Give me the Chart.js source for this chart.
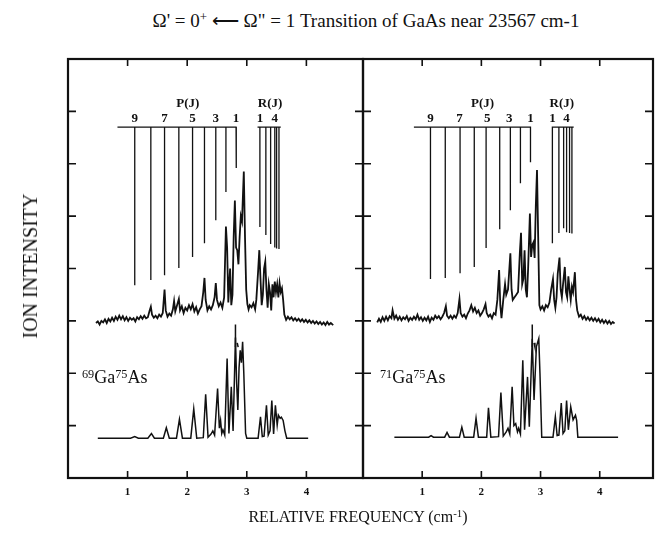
<!DOCTYPE html>
<html>
<head>
<meta charset="utf-8">
<script src="https://cdn.jsdelivr.net/npm/chart.js@4/dist/chart.umd.min.js"></script>
<style>
  body { margin: 0; background: #fff; width: 655px; height: 537px; position: relative; overflow: hidden;
         font-family: "Liberation Serif", "Times New Roman", serif; color: #111; }
  canvas { position: absolute; top: 0; }
  .t { position: absolute; white-space: nowrap; line-height: 1; }
  .t sup { font-size: 0.68em; vertical-align: 0.45em; line-height: 0; }
  #title { left: 366px; top: 11px; font-size: 19px; transform: translateX(-50%); }
  #xlab { left: 358px; top: 509px; font-size: 16px; transform: translateX(-50%); }
  #ylab { left: 30px; top: 266px; font-size: 20px; transform: translate(-50%, -50%) rotate(-90deg); }
  .iso { font-size: 18px; top: 368px; }
</style>
</head>
<body>
<div class="t" id="title">Ω' = 0<sup>+</sup> ⟵ Ω" = 1 Transition of GaAs near 23567 cm-1</div>
<canvas id="c69" width="366" height="537" style="left:0"></canvas>
<canvas id="c71" width="295" height="537" style="left:360px"></canvas>
<div class="t iso" style="left:82px"><sup>69</sup>Ga<sup>75</sup>As</div>
<div class="t iso" style="left:380px"><sup>71</sup>Ga<sup>75</sup>As</div>
<div class="t" id="ylab">ION INTENSITY</div>
<div class="t" id="xlab">RELATIVE FREQUENCY (cm<sup>-1</sup>)</div>
<script>
// GaAs rotational spectra, two isotopes.
// x = relative frequency (cm-1), y = ion intensity in tick units (0..8).

const INK = "#111";
const X_TICKS = [1, 2, 3, 4];
const Y_TICKS = [1, 2, 3, 4, 5, 6, 7];
const BAR_Y = 6.7;

// ---- 69Ga75As ----
const exp69 = [
  [0.47,2.96],[0.50,2.99],[0.53,2.93],[0.56,3.00],[0.59,2.97],[0.62,3.03],[0.65,2.96],[0.68,3.04],
  [0.71,2.99],[0.74,3.06],[0.77,3.00],[0.80,3.08],[0.83,3.02],[0.86,3.10],[0.89,3.03],[0.92,3.09],
  [0.95,3.01],[0.98,3.07],[1.01,3.00],[1.04,3.06],[1.07,3.02],[1.10,3.05],[1.13,2.99],[1.16,3.07],
  [1.19,3.03],[1.22,3.09],[1.25,3.04],[1.28,3.10],[1.31,3.05],[1.34,3.07],[1.37,3.20],[1.39,3.27],
  [1.41,3.12],[1.44,3.06],[1.47,3.10],[1.50,3.05],[1.53,3.12],[1.56,3.08],[1.59,3.15],[1.62,3.60],
  [1.64,3.20],[1.67,3.08],[1.70,3.14],[1.73,3.10],[1.76,3.22],[1.78,3.38],[1.80,3.18],[1.83,3.30],
  [1.86,3.42],[1.88,3.20],[1.91,3.28],[1.94,3.15],[1.97,3.25],[2.00,3.20],[2.03,3.30],[2.06,3.22],
  [2.09,3.32],[2.12,3.18],[2.15,3.26],[2.18,3.14],[2.21,3.22],[2.24,3.28],[2.27,3.55],[2.29,3.82],
  [2.31,3.40],[2.34,3.20],[2.37,3.28],[2.40,3.22],[2.43,3.30],[2.46,3.45],[2.48,3.72],[2.50,3.40],
  [2.53,3.28],[2.56,3.35],[2.59,3.25],[2.62,3.45],[2.65,4.80],[2.67,4.40],[2.69,3.35],[2.71,3.80],
  [2.72,4.00],[2.74,3.30],[2.76,3.50],[2.78,4.60],[2.80,5.30],[2.82,4.40],[2.84,4.35],[2.86,4.08],
  [2.88,4.60],[2.90,5.00],[2.92,4.90],[2.95,5.85],[2.97,4.60],[2.99,3.60],[3.01,3.32],[3.03,3.22],
  [3.05,3.30],[3.08,3.26],[3.11,3.34],[3.14,3.22],[3.16,3.40],[3.19,3.95],[3.21,4.35],[3.23,3.80],
  [3.25,3.30],[3.27,3.50],[3.29,4.00],[3.31,4.13],[3.33,3.60],[3.35,3.25],[3.37,3.70],[3.39,3.55],
  [3.41,3.20],[3.43,3.70],[3.45,3.45],[3.47,3.75],[3.49,3.55],[3.51,3.70],[3.53,3.45],[3.55,3.72],
  [3.57,3.55],[3.59,3.62],[3.61,3.40],[3.63,3.12],[3.66,3.02],[3.69,3.08],[3.72,3.03],[3.75,3.07],
  [3.78,3.01],[3.81,3.05],[3.84,3.00],[3.87,3.04],[3.90,2.99],[3.93,3.03],[3.96,2.98],[3.99,3.02],
  [4.02,2.97],[4.05,3.01],[4.08,2.96],[4.11,3.00],[4.14,2.95],[4.17,2.99],[4.20,2.94],[4.23,2.98],
  [4.26,2.93],[4.29,2.97],[4.32,2.92],[4.35,2.98],[4.38,2.93],[4.41,2.96],[4.45,2.92],
];
const sim69 = [
  [0.50,0.76],[1.05,0.76],[1.12,0.79],[1.18,0.76],[1.34,0.76],[1.40,0.85],[1.45,0.76],[1.60,0.76],
  [1.65,0.96],[1.70,0.76],[1.82,0.76],[1.87,1.12],[1.92,0.76],[2.06,0.76],[2.11,1.32],[2.16,0.76],
  [2.27,0.77],[2.31,1.60],[2.35,0.78],[2.40,0.84],[2.43,0.90],[2.46,0.82],[2.51,1.71],[2.54,0.95],
  [2.56,1.10],[2.58,0.85],[2.60,0.92],[2.63,0.82],[2.67,2.28],[2.70,0.85],[2.74,1.74],[2.77,0.90],
  [2.81,2.68],[2.83,1.80],[2.85,1.30],[2.87,2.10],[2.89,2.44],[2.91,2.20],[2.93,2.60],[2.95,2.00],
  [2.98,0.85],[3.00,0.76],[3.19,0.76],[3.23,1.17],[3.26,0.79],[3.29,0.80],[3.33,1.39],[3.36,0.82],
  [3.39,0.90],[3.42,1.48],[3.45,0.84],[3.48,1.39],[3.51,1.01],[3.53,1.20],[3.56,1.14],[3.58,1.16],
  [3.61,1.10],[3.64,0.90],[3.67,0.76],[4.03,0.76],
];
// [line x, lower end]
const pLines69 = [[1.12,3.68],[1.39,3.78],[1.62,3.87],[1.86,4.01],[2.09,4.22],[2.29,4.48],[2.48,4.92],[2.65,5.46],[2.82,5.92]];
const rLines69 = [[3.22,4.79],[3.32,4.64],[3.40,4.47],[3.47,4.40],[3.50,4.38],[3.54,4.37]];
const pBar69 = [0.83, 2.83];
const rBar69 = [3.18, 3.57];
const origin69 = [[2.81,2.93],[2.81,2.50],null,[2.84,2.58],[2.855,2.50]];
const notes69 = [
  ["P(J)",2.01,7.08],["R(J)",3.39,7.08],
  ["9",1.12,6.79],["7",1.62,6.79],["5",2.09,6.79],["3",2.48,6.79],["1",2.82,6.79],["1",3.22,6.79],["4",3.47,6.79],
];

// ---- 71Ga75As ----
const exp71 = [
  [0.24,2.97],[0.27,3.04],[0.30,2.98],[0.33,3.07],[0.36,3.00],[0.39,3.08],[0.42,3.01],[0.45,3.09],
  [0.48,3.05],[0.50,3.20],[0.53,3.04],[0.56,3.10],[0.59,3.02],[0.62,3.08],[0.65,3.01],[0.68,3.07],
  [0.71,3.03],[0.74,3.09],[0.77,3.00],[0.80,3.06],[0.83,3.02],[0.86,3.08],[0.89,3.03],[0.92,3.12],
  [0.95,3.02],[0.98,3.07],[1.01,3.00],[1.04,3.06],[1.07,3.01],[1.10,3.08],[1.13,2.98],[1.16,3.06],
  [1.19,3.02],[1.22,3.10],[1.25,3.05],[1.28,3.09],[1.31,3.03],[1.34,3.08],[1.37,3.15],[1.40,3.28],
  [1.42,3.10],[1.45,3.05],[1.48,3.10],[1.51,3.04],[1.54,3.10],[1.57,3.06],[1.60,3.15],[1.63,3.42],
  [1.65,3.15],[1.68,3.08],[1.71,3.12],[1.74,3.05],[1.77,3.14],[1.80,3.20],[1.83,3.30],[1.86,3.18],
  [1.89,3.25],[1.92,3.15],[1.95,3.20],[1.98,3.10],[2.01,3.15],[2.04,3.22],[2.07,3.32],[2.09,3.15],
  [2.12,3.08],[2.15,3.12],[2.18,3.05],[2.21,3.15],[2.24,3.12],[2.27,3.40],[2.30,3.97],[2.32,3.30],
  [2.34,3.05],[2.37,3.40],[2.40,3.70],[2.42,3.50],[2.45,3.60],[2.49,4.29],[2.51,3.60],[2.53,3.40],
  [2.56,3.45],[2.59,3.50],[2.62,3.55],[2.65,4.30],[2.67,4.68],[2.69,3.70],[2.71,3.80],[2.73,4.35],
  [2.75,3.60],[2.77,3.45],[2.79,4.00],[2.82,5.05],[2.84,4.22],[2.86,4.45],[2.88,4.50],[2.90,4.20],
  [2.92,5.20],[2.94,5.88],[2.96,4.60],[2.98,3.30],[3.00,3.22],[3.03,3.28],[3.06,3.20],[3.09,3.30],
  [3.12,3.26],[3.15,3.35],[3.18,3.60],[3.21,3.80],[3.23,3.40],[3.25,3.25],[3.27,3.45],[3.29,3.90],
  [3.32,4.21],[3.34,3.60],[3.36,3.45],[3.38,3.70],[3.41,4.03],[3.43,3.55],[3.45,3.45],[3.47,3.85],
  [3.49,3.60],[3.51,3.40],[3.53,3.65],[3.55,3.55],[3.58,3.93],[3.60,3.40],[3.62,3.20],[3.65,3.08],
  [3.68,3.12],[3.71,3.04],[3.74,3.09],[3.77,3.02],[3.80,3.07],[3.83,3.01],[3.86,3.06],[3.89,3.00],
  [3.92,3.05],[3.95,2.99],[3.98,3.04],[4.01,2.97],[4.04,3.02],[4.07,2.96],[4.10,3.01],[4.13,2.95],
  [4.16,3.00],[4.19,2.94],[4.22,2.98],[4.25,2.95],
];
const sim71 = [
  [0.53,0.78],[1.11,0.78],[1.15,0.81],[1.19,0.78],[1.38,0.78],[1.42,0.87],[1.46,0.78],[1.63,0.78],
  [1.67,0.97],[1.71,0.78],[1.87,0.78],[1.91,1.14],[1.95,0.78],[2.09,0.78],[2.12,1.34],[2.16,0.78],
  [2.29,0.79],[2.33,1.63],[2.37,0.80],[2.42,0.88],[2.45,0.95],[2.48,0.84],[2.52,1.74],[2.55,1.00],
  [2.58,1.04],[2.61,0.88],[2.63,0.95],[2.66,0.84],[2.70,2.25],[2.73,0.92],[2.78,1.93],[2.81,0.98],
  [2.86,2.66],[2.89,1.49],[2.93,2.51],[2.97,2.66],[2.99,2.00],[3.02,0.78],[3.21,0.78],[3.25,1.17],
  [3.28,0.81],[3.31,0.82],[3.35,1.43],[3.38,0.85],[3.41,0.90],[3.44,1.48],[3.47,0.92],[3.51,1.36],
  [3.55,1.11],[3.59,1.20],[3.61,1.10],[3.63,0.78],[4.31,0.78],
];
const pLines71 = [[1.14,3.80],[1.39,3.82],[1.64,3.91],[1.88,4.03],[2.08,4.39],[2.31,4.75],[2.49,5.11],[2.66,5.63],[2.83,6.03]];
const rLines71 = [[3.20,4.48],[3.31,4.68],[3.39,4.77],[3.44,4.69],[3.49,4.68],[3.53,4.67]];
const pBar71 = [0.86, 2.83];
const rBar71 = [3.20, 3.56];
const origin71 = [[2.86,2.93],[2.86,2.50],null,[2.89,2.58],[2.905,2.50]];
const notes71 = [
  ["P(J)",2.02,7.08],["R(J)",3.36,7.08],
  ["9",1.14,6.79],["7",1.63,6.79],["5",2.10,6.79],["3",2.47,6.79],["1",2.83,6.79],["1",3.20,6.79],["4",3.44,6.79],
];

const pts = (arr) => arr.map((p) => (p ? { x: p[0], y: p[1] } : { x: NaN, y: null }));

// a bar with vertical assignment lines hanging off it
function comb(bar, lines) {
  const out = [{ x: bar[0], y: BAR_Y }];
  for (const [x, lo] of lines) out.push({ x, y: BAR_Y }, { x, y: lo }, { x, y: BAR_Y });
  out.push({ x: bar[1], y: BAR_Y });
  return out;
}

const line = (data, w) => ({
  data, borderColor: INK, borderWidth: w, pointRadius: 0, fill: false, tension: 0, spanGaps: false,
});

const framePlugin = {
  id: "frame",
  afterDatasetsDraw(chart, args, opts) {
    const { ctx, chartArea: a, scales: { x, y } } = chart;
    ctx.save();
    ctx.strokeStyle = INK;
    ctx.lineWidth = 2.2;
    ctx.strokeRect(a.left, a.top, a.right - a.left, a.bottom - a.top);
    ctx.lineWidth = 1.6;
    ctx.beginPath();
    for (const v of X_TICKS) {
      const px = x.getPixelForValue(v);
      ctx.moveTo(px, a.top); ctx.lineTo(px, a.top + 7);
      ctx.moveTo(px, a.bottom); ctx.lineTo(px, a.bottom - 7);
    }
    for (const v of Y_TICKS) {
      const py = y.getPixelForValue(v);
      ctx.moveTo(a.left, py); ctx.lineTo(a.left + 8, py);
      ctx.moveTo(a.right, py); ctx.lineTo(a.right - 8, py);
    }
    ctx.stroke();
    ctx.fillStyle = INK;
    ctx.textAlign = "center";
    ctx.font = "bold 13px 'Liberation Serif', serif";
    for (const [t, vx, vy] of opts.notes) ctx.fillText(t, x.getPixelForValue(vx), y.getPixelForValue(vy));
    ctx.restore();
  },
};

function panel(id, xMax, pad, exp, sim, pL, rL, pB, rB, origin, notes) {
  new Chart(document.getElementById(id), {
    type: "line",
    data: {
      datasets: [
        line(pts(exp), 1.8),
        line(pts(sim), 1.5),
        line(comb(pB, pL), 1.3),
        line(comb(rB, rL), 1.3),
        line(pts(origin), 1.5),
      ],
    },
    options: {
      responsive: false,
      animation: false,
      layout: { padding: { left: pad[0], right: pad[1], top: 59, bottom: 37 } },
      plugins: { legend: { display: false }, tooltip: { enabled: false }, frame: { notes } },
      scales: {
        x: {
          type: "linear", min: 0, max: xMax,
          grid: { display: false, drawTicks: false }, border: { display: false },
          afterBuildTicks: (s) => { s.ticks = X_TICKS.map((value) => ({ value })); },
          afterFit: (s) => { s.height = 22; },
          ticks: { color: INK, padding: 8, maxRotation: 0, font: { family: "'Liberation Serif', serif", size: 11, weight: "bold" } },
        },
        y: { type: "linear", min: 0, max: 8, display: false },
      },
    },
    plugins: [framePlugin],
  });
}

panel("c69", 4.95, [68, 3], exp69, sim69, pLines69, rLines69, pBar69, rBar69, origin69, notes69);
panel("c71", 4.9, [3, 2], exp71, sim71, pLines71, rLines71, pBar71, rBar71, origin71, notes71);
</script>
</body>
</html>
